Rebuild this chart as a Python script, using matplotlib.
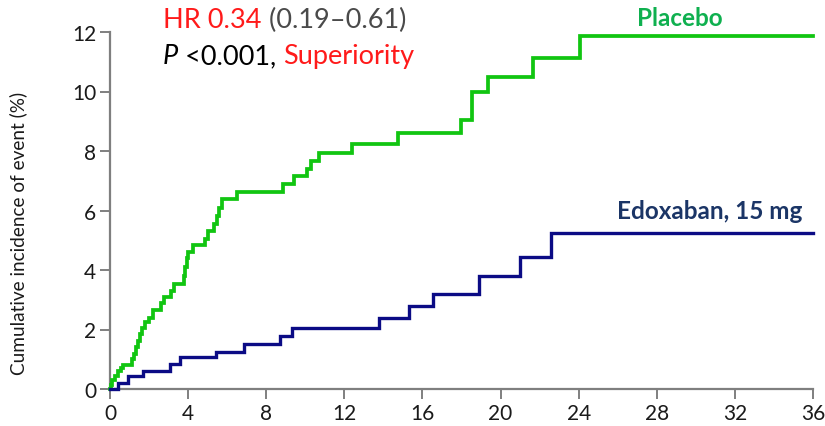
import matplotlib
matplotlib.use("Agg")
import matplotlib.pyplot as plt

plt.rcParams['font.family'] = ['Lato', 'DejaVu Sans']

# Cumulative incidence (%) by month: step times and level after each step
placebo_months = [0.0, 0.05, 0.12, 0.25, 0.40, 0.55, 0.68, 1.15, 1.25, 1.35, 1.45,
                  1.55, 1.65, 1.80, 2.00, 2.20, 2.62, 2.75, 3.10, 3.30, 3.78, 3.85,
                  3.92, 3.98, 4.25, 4.85, 5.00, 5.35, 5.48, 5.58, 5.75, 6.50, 8.87,
                  9.40, 10.07, 10.30, 10.72, 12.37, 14.76, 18.00, 18.52, 19.37,
                  21.65, 24.05, 36.0]
placebo_pct = [0.00, 0.15, 0.30, 0.45, 0.60, 0.72, 0.82, 1.00, 1.18, 1.40, 1.62,
               1.85, 2.05, 2.24, 2.40, 2.67, 2.88, 3.08, 3.30, 3.53, 3.80, 4.10,
               4.40, 4.60, 4.85, 5.05, 5.30, 5.55, 5.80, 6.10, 6.40, 6.63, 6.89,
               7.15, 7.40, 7.68, 7.92, 8.24, 8.61, 9.04, 9.97, 10.48,
               11.13, 11.85, 11.85]

edoxaban_months = [0.0, 0.43, 0.94, 1.71, 3.07, 3.58, 5.43, 6.86, 8.70, 9.30,
                   13.79, 15.33, 16.55, 18.89, 20.99, 22.60, 36.0]
edoxaban_pct = [0.00, 0.20, 0.43, 0.62, 0.84, 1.06, 1.26, 1.51, 1.79, 2.06,
                2.39, 2.80, 3.21, 3.79, 4.45, 5.23, 5.23]

x_ticks = [0, 4, 8, 12, 16, 20, 24, 28, 32, 36]
y_ticks = [0, 2, 4, 6, 8, 10, 12]

GREEN_LINE = '#11c511'
NAVY_LINE = '#0b0b85'
GREEN_TEXT = '#0fb04f'
NAVY_TEXT = '#1b3566'
RED = '#ff1a1a'
GREY_TEXT = '#4a4a4a'
AXIS_GREY = '#7f7f7f'

fig = plt.figure(figsize=(8.25, 4.27), dpi=100)
W, H = 825, 427
ax = fig.add_axes([110 / W, 1 - 390 / H, (813 - 110) / W, (390 - 33) / H])

ax.step(placebo_months, placebo_pct, where='post', color=GREEN_LINE, lw=2.7,
        clip_on=False, solid_joinstyle='miter', zorder=3)
ax.step(edoxaban_months, edoxaban_pct, where='post', color=NAVY_LINE, lw=2.4,
        clip_on=False, solid_joinstyle='miter', zorder=3)

ax.set_xlim(0, 36)
ax.set_ylim(0, 12)
ax.set_xticks(x_ticks)
ax.set_yticks(y_ticks)
ax.tick_params(axis='both', direction='out', length=7, width=1.4, color=AXIS_GREY,
               labelsize=15, labelcolor='#1a1a1a', pad=3)
for side in ('top', 'right'):
    ax.spines[side].set_visible(False)
for side in ('left', 'bottom'):
    ax.spines[side].set_color(AXIS_GREY)
    ax.spines[side].set_linewidth(1.6)

fig.text(18 / W, 1 - 233 / H, 'Cumulative incidence of event (%)', rotation=90,
         ha='center', va='center', fontsize=13.7, color='#1a1a1a')

# Curve labels
fig.text(680 / W, 1 - 18 / H, 'Placebo', ha='center', va='center',
         fontsize=17.5, fontweight='bold', color=GREEN_TEXT)
fig.text(802 / W, 1 - 212 / H, 'Edoxaban, 15 mg', ha='right', va='center',
         fontsize=17.5, fontweight='bold', color=NAVY_TEXT)

# Hazard ratio and P value, built from coloured pieces placed end to end
fs = 19.5
t1 = fig.text(163 / W, 1 - 28 / H, 'HR 0.34', ha='left', va='baseline',
              fontsize=fs, color=RED)
ax.annotate(' (0.19\u20130.61)', xy=(1, 0), xycoords=t1, ha='left',
            va='bottom', fontsize=fs, color=GREY_TEXT, annotation_clip=False)

t2 = fig.text(163 / W, 1 - 64 / H, 'P', ha='left', va='baseline',
              fontsize=fs, color='black', fontstyle='italic')
a2 = ax.annotate(' <0.001, ', xy=(1, 0), xycoords=t2, ha='left', va='bottom',
                 fontsize=fs, color='black', annotation_clip=False)
ax.annotate('Superiority', xy=(1, 0), xycoords=a2, ha='left', va='bottom',
            fontsize=fs, color=RED, annotation_clip=False)

fig.savefig('out.png', dpi=100)
